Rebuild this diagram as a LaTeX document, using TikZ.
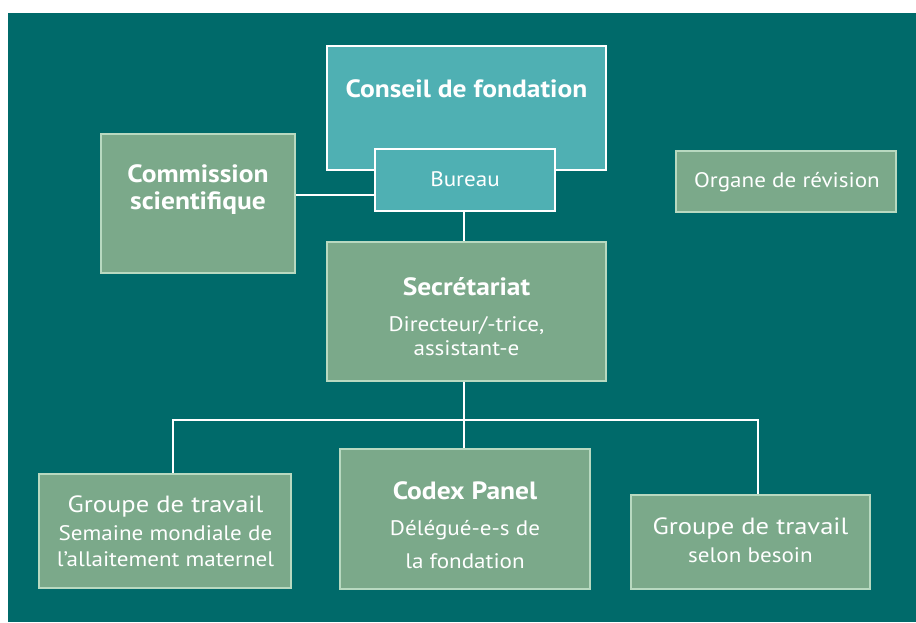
\documentclass[tikz,border=0pt]{standalone}
\usepackage{fontspec}
\setmainfont{PT Sans}
\newfontfamily\widesans{PT Sans}[FakeStretch=1.1]
\newfontfamily\widersans{PT Sans}[FakeStretch=1.13]
\definecolor{bgteal}{HTML}{006A6A}
\definecolor{boxgreen}{HTML}{7BA98A}
\definecolor{boxedge}{HTML}{B8D9C0}
\definecolor{cyanbox}{HTML}{4FB0B3}
\begin{document}
\begin{tikzpicture}[x=1pt,y=-1pt,
  gbox/.style={draw=boxedge, line width=2pt, fill=boxgreen, inner sep=0pt},
  cbox/.style={draw=white, line width=2pt, fill=cyanbox, inner sep=0pt},
  conn/.style={draw=white, line width=2.5pt},
  txt/.style={text=white, inner sep=0pt, anchor=base},
  bt/.style={txt, font=\widesans\fontsize{25}{28}\selectfont\bfseries},
  rt/.style={txt, font=\widersans\fontsize{23.5}{26}\selectfont},
  st/.style={txt, font=\widesans\fontsize{21}{24}\selectfont}]
\useasboundingbox (0,0) rectangle (916,622);
\fill[white] (0,0) rectangle (916,622);
\fill[bgteal] (8,13) rectangle (916,622);
% boxes
\node[cbox, minimum width=279pt, minimum height=124pt] (conseil) at (466.5,108) {};
\node[cbox, minimum width=180pt, minimum height=62pt] (bureau) at (465,180) {};
\node[gbox, minimum width=194pt, minimum height=139pt] (comm) at (198,203.5) {};
\node[gbox, minimum width=220pt, minimum height=61pt] (organe) at (786,181.5) {};
\node[gbox, minimum width=279pt, minimum height=139pt] (sec) at (466.5,311.5) {};
\node[gbox, minimum width=252pt, minimum height=114pt] (g1) at (165,531) {};
\node[gbox, minimum width=250pt, minimum height=140pt] (codex) at (465,519) {};
\node[gbox, minimum width=239pt, minimum height=94pt] (g3) at (750.5,542) {};
% connectors
\coordinate (tl) at (173,420);
\coordinate (tr) at (758,420);
\coordinate (tm) at (464,420);
\draw[conn] (comm.east |- 0,195) -- (bureau.west |- 0,195);
\draw[conn] (bureau.south -| tm) -- (sec.north -| tm);
\draw[conn] (sec.south -| tm) -- (codex.north -| tm);
\draw[conn] (g1.north -| tl) -- (tl) -- (tr) -- (g3.north -| tr);
% texts
\node[bt] (t1) at (466.5,97) {Conseil de fondation};
\node[st] (t2) at (465,186) {Bureau};
\node[bt] (t3) at (198,182) {Commission};
\node[bt] (t4) at (198,209) {scientifique};
\node[st] (t5) at (787,187) {Organe de révision};
\node[bt] (t6) at (466.5,295) {Secrétariat};
\node[st] (t7) at (466.5,331) {Directeur/-trice,};
\node[st] (t8) at (466.5,355) {assistant-e};
\node[rt] (t9) at (165.5,512) {Groupe de travail};
\node[st] (t10) at (165.5,540) {Semaine mondiale de};
\node[st] (t11) at (165.5,566) {l’allaitement maternel};
\node[bt] (t12) at (465,499) {Codex Panel};
\node[st] (t13) at (465,535) {Délégué-e-s de};
\node[st] (t14) at (465,568) {la fondation};
\node[rt] (t15) at (750.5,534) {Groupe de travail};
\node[st] (t16) at (750.5,562) {selon besoin};
\end{tikzpicture}
\end{document}
